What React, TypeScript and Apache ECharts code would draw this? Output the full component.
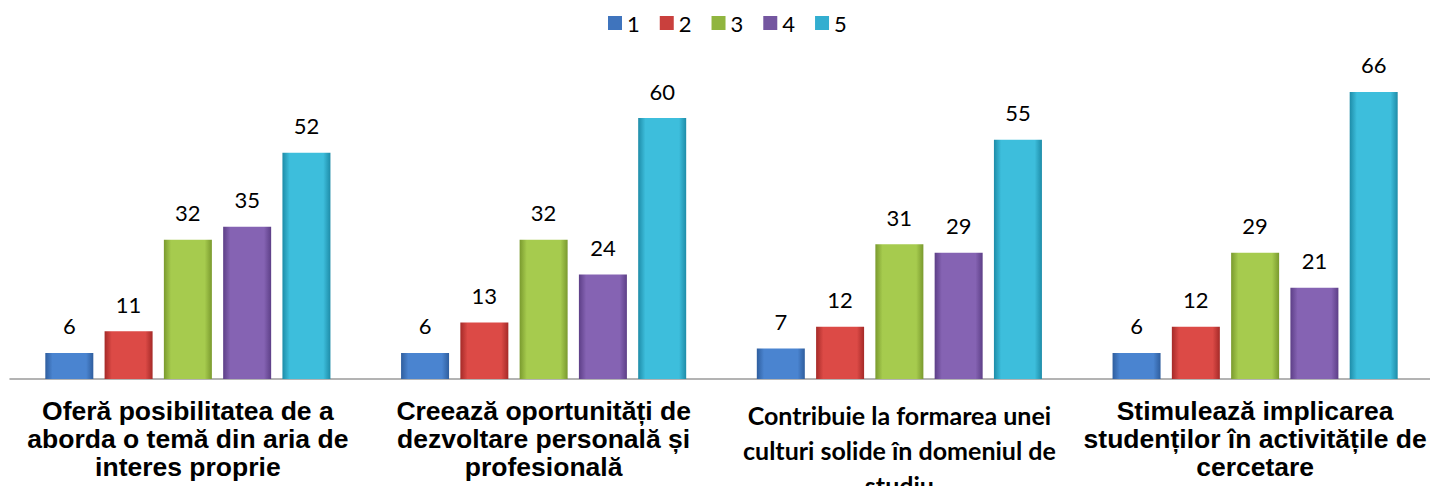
import React, { useEffect, useRef } from "react";
import * as echarts from "echarts";

const categories = [
  "Oferă posibilitatea de a\naborda o temă din aria de\ninteres proprie",
  "Creează oportunități de\ndezvoltare personală și\nprofesională",
  "Contribuie la formarea unei\nculturi solide în domeniul de\nstudiu",
  "Stimulează implicarea\nstudenților în activitățile de\ncercetare",
];
const seriesNames = ["1", "2", "3", "4", "5"];
const s1 = [6, 6, 7, 6];
const s2 = [11, 13, 12, 12];
const s3 = [32, 32, 31, 29];
const s4 = [35, 24, 29, 21];
const s5 = [52, 60, 55, 66];
const seriesValues = [s1, s2, s3, s4, s5];

const baseColors = [
  ["#2f5e9e", "#4a84d0", "#2f5e9e"],
  ["#a52a28", "#dc4a46", "#a52a28"],
  ["#7a9a2e", "#a6cb4e", "#7a9a2e"],
  ["#5d3f87", "#8563b3", "#5d3f87"],
  ["#1e8ca8", "#3dbedc", "#1e8ca8"],
];
const legendColors = ["#3f74bd", "#c9403d", "#90b53f", "#7456a0", "#33aed0"];

export default function App() {
  const ref = useRef<HTMLDivElement>(null);
  useEffect(() => {
    if (!ref.current) return;
    const chart = echarts.init(ref.current, undefined, { renderer: "svg" });
    const armStyle = {
      fontFamily: "Liberation Sans",
      fontWeight: "bold",
      fontSize: 26.5,
      lineHeight: 28,
      color: "#000",
    };
    const calStyle = {
      fontFamily: "Lato",
      fontWeight: "bold",
      fontSize: 25,
      lineHeight: 35,
      color: "#000",
    };
    const option: any = {
      animation: false,
      backgroundColor: "#ffffff",
      legend: {
        top: 7,
        left: 603,
        itemWidth: 14,
        itemHeight: 14,
        itemGap: 20,
        icon: "rect",
        textStyle: { fontFamily: "Lato", fontSize: 22, color: "#000" },
        data: seriesNames.map((n, i) => ({ name: n, itemStyle: { color: legendColors[i] } })),
      },
      grid: {
        left: 10,
        right: -3,
        top: 31,
        bottom: 107,
        containLabel: false,
        outerBoundsMode: "none",
      },
      xAxis: {
        type: "category",
        data: categories.map((c, i) => ({
          value: c,
          textStyle: i === 2 ? calStyle : armStyle,
        })),
        axisLine: { lineStyle: { color: "#9a9a9a", width: 1.5 } },
        axisTick: { show: false },
        axisLabel: {
          interval: 0,
          margin: 18,
          align: "center",
          ...armStyle,
        },
      },
      yAxis: {
        type: "value",
        min: 0,
        max: 80,
        show: false,
        splitLine: { show: false },
      },
      series: seriesValues.map((vals, i) => ({
        name: seriesNames[i],
        type: "bar",
        data: vals,
        barWidth: 48,
        barGap: "23.5%",
        itemStyle: {
          color: {
            type: "linear",
            x: 0,
            y: 0,
            x2: 1,
            y2: 0,
            colorStops: [
              { offset: 0, color: baseColors[i][0] },
              { offset: 0.15, color: baseColors[i][1] },
              { offset: 0.85, color: baseColors[i][1] },
              { offset: 1, color: baseColors[i][2] },
            ],
          },
        },
        label: {
          show: true,
          position: "top",
          distance: 16,
          fontFamily: "Lato",
          fontSize: 22,
          color: "#000",
        },
      })),
    };
    chart.setOption(option);
    return () => chart.dispose();
  }, []);
  return (
    <div
      ref={ref}
      style={{ position: "fixed", left: 0, top: 0, width: 1430, height: 486 }}
    />
  );
}
